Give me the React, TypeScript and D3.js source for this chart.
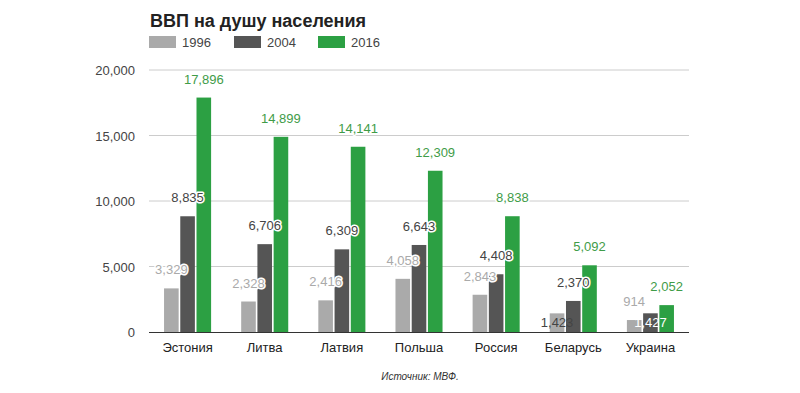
import React from "react";
import * as d3 from "d3";

const countries = ["Эстония", "Литва", "Латвия", "Польша", "Россия", "Беларусь", "Украина"];
const years = ["1996", "2004", "2016"];
const gdp1996 = [3329, 2328, 2416, 4058, 2843, 1423, 914];
const gdp2004 = [8835, 6706, 6309, 6643, 4408, 2370, 1427];
const gdp2016 = [17896, 14899, 14141, 12309, 8838, 5092, 2052];
const yTicks = [0, 5000, 10000, 15000, 20000];
// labels that google charts pushed inside the bar (country, year)
const insideLabels = ["Беларусь|1996", "Украина|2004"];

const barColors = ["#aaaaaa", "#555555", "#2ca043"];
const labelColors = ["#aaaaaa", "#444444", "#3f9c48"];
const insideColors = ["#444444", "#ffffff", "#ffffff"];

const W = 800;
const H = 393;
const font = "Arial, 'Liberation Sans', sans-serif";

export default function App() {
  const series = [gdp1996, gdp2004, gdp2016];

  const x0 = d3.scaleBand<string>()
    .domain(countries)
    .range([149, 689])
    .paddingInner(0.39)
    .paddingOuter(0.195);

  const x1 = d3.scaleBand<string>()
    .domain(years)
    .range([0, x0.bandwidth()])
    .paddingInner(0.1);

  const y = d3.scaleLinear().domain([0, 20000]).range([332, 70]);
  const fmt = d3.format(",");

  return (
    <svg width={W} height={H} style={{ position: "absolute", left: 0, top: 0 }} fontFamily={font}>
      <rect width={W} height={H} fill="#fff" />
      <text x={150} y={27} fontSize={18} fontWeight="bold" fill="#222">ВВП на душу населения</text>

      {/* legend */}
      {years.map((yr, i) => {
        const lx = [149, 234, 318][i];
        return (
          <g key={yr}>
            <rect x={lx} y={36} width={27} height={12} fill={barColors[i]} />
            <text x={lx + 33} y={47} fontSize={13} fill="#444">{yr}</text>
          </g>
        );
      })}

      {/* grid */}
      {yTicks.map(t => (
        <g key={t}>
          {t > 0 && <line x1={149} x2={689} y1={y(t)} y2={y(t)} stroke="#cccccc" />}
          <text x={135} y={y(t) + 5} fontSize={13} fill="#444" textAnchor="end">{fmt(t)}</text>
        </g>
      ))}

      {/* bars */}
      {countries.map((c, ci) => (
        <g key={c} transform={`translate(${x0(c)},0)`}>
          {years.map((yr, si) => (
            <rect key={yr} x={x1(yr)} y={y(series[si][ci])} width={x1.bandwidth()}
              height={y(0) - y(series[si][ci])} fill={barColors[si]} />
          ))}
        </g>
      ))}

      <line x1={149} x2={689} y1={y(0) + 0.5} y2={y(0) + 0.5} stroke="#333" />

      {/* value labels */}
      {countries.map((c, ci) => (
        <g key={c} transform={`translate(${x0(c)},0)`}>
          {years.map((yr, si) => {
            const v = series[si][ci];
            const cx = (x1(yr) as number) + x1.bandwidth() / 2;
            const inside = insideLabels.includes(`${c}|${yr}`);
            if (inside) {
              return (
                <text key={yr} x={cx} y={y(0) - 5} fontSize={13} textAnchor="middle" fill={insideColors[si]}>{fmt(v)}</text>
              );
            }
            return (
              <text key={yr} x={cx} y={y(v) - 14} fontSize={13} textAnchor="middle" fill={labelColors[si]}
                stroke="#fff" strokeWidth={3} strokeLinejoin="round" paintOrder="stroke">{fmt(v)}</text>
            );
          })}
        </g>
      ))}

      {/* categories */}
      {countries.map(c => (
        <text key={c} x={(x0(c) as number) + x0.bandwidth() / 2} y={352} fontSize={13} fill="#222" textAnchor="middle">{c}</text>
      ))}

      <text x={420} y={380} fontSize={10} fontStyle="italic" fill="#333" textAnchor="middle">Источник: МВФ.</text>
    </svg>
  );
}
